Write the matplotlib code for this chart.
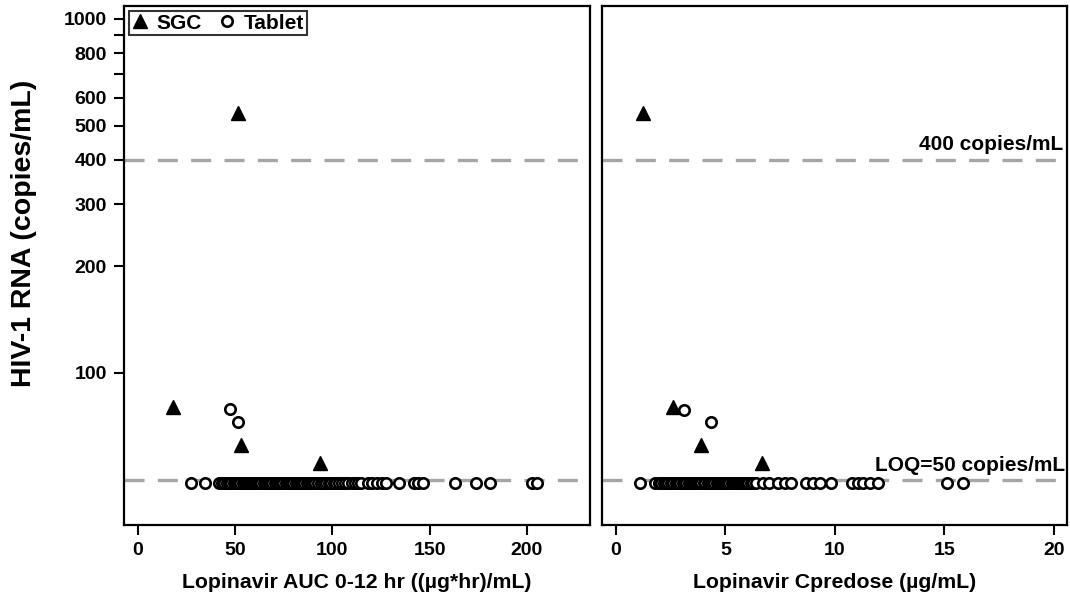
import matplotlib
matplotlib.use("Agg")
import matplotlib.pyplot as plt
from matplotlib.ticker import FixedLocator, FixedFormatter, NullLocator
from matplotlib.lines import Line2D

plt.rcParams['font.family'] = ['Liberation Sans', 'DejaVu Sans']
plt.rcParams['font.weight'] = 'bold'

# ---- data ----
# Left panel: Lopinavir AUC 0-12 hr
sgc_auc = [18, 51.5, 53, 93.5]
sgc_auc_rna = [80, 542, 62.6, 55.7]
tab_auc_hi = [47.6, 51.4]
tab_auc_hi_rna = [79, 72.9]
tab_auc_loq = [27.5, 34.5,
               42, 43.5, 44.5, 46, 47, 48, 49.5, 50.5, 51.5, 52.5, 54, 55, 56, 57, 58,
               59.5, 60.5, 61.5, 62.5, 63.5, 65, 66, 67, 68, 69, 70.5, 71.5, 72.5, 73.5,
               74.5, 76, 77, 78, 79, 80, 81.5, 82.5, 83.5, 84.5, 85.5, 87, 88, 89, 90,
               91, 92.5, 94, 95, 96, 97, 98.5, 99.5, 101, 102, 103.5, 105, 106.5, 108,
               110, 111.5, 113, 115,
               118.5, 120.5, 123, 125.5, 127.5, 134.5, 142, 144, 146.5, 163, 174, 181,
               202.5, 205]

# Right panel: Lopinavir Cpredose
sgc_cpre = [1.23, 2.59, 3.88, 6.68]
sgc_cpre_rna = [542, 80, 62.6, 55.7]
tab_cpre_hi = [3.09, 4.32]
tab_cpre_hi_rna = [78.6, 72.9]
tab_cpre_loq = [1.1,
                1.8, 1.97, 2.05, 2.18, 2.3, 2.38, 2.52, 2.6, 2.73, 2.81, 2.9, 3.04, 3.12,
                3.2, 3.33, 3.41, 3.5, 3.62, 3.7, 3.79, 3.9, 4.02, 4.08, 4.2, 4.31, 4.4,
                4.48, 4.6, 4.71, 4.8, 4.88, 5.0, 5.09, 5.17, 5.3, 5.38, 5.46, 5.58, 5.65,
                5.74, 5.85, 5.93, 6.02, 6.15, 6.26, 6.4,
                6.7, 7.0, 7.4, 7.7, 8.0, 8.7, 9.0, 9.3, 9.8, 10.8, 11.05, 11.3, 11.6,
                11.95, 15.1, 15.85]
loq_rna = 49

ref_levels = [400, 50]
ref_labels = ['400 copies/mL', 'LOQ=50 copies/mL']

y_ticks = [100, 200, 300, 400, 500, 600, 700, 800, 900, 1000]
y_labels = ['100', '200', '300', '400', '500', '600', '', '800', '', '1000']
x_ticks_auc = [0, 50, 100, 150, 200]
x_ticks_cpre = [0, 5, 10, 15, 20]

W, H = 1070, 603
fig = plt.figure(figsize=(W / 100, H / 100), dpi=100)
bottom = 1 - 525 / H
top = 1 - 6 / H
ax1 = fig.add_axes([124 / W, bottom, (590 - 124) / W, top - bottom])
ax2 = fig.add_axes([602 / W, bottom, (1067 - 602) / W, top - bottom])

tri_kw = dict(marker='^', color='black', ms=10.5, linestyle='none')
circ_kw = dict(marker='o', mfc='white', mec='black', ms=7.5, mew=1.9, linestyle='none')
dash_kw = dict(color='#a6a6a6', lw=2.4, dashes=(6, 4), zorder=1)

TICK_FS = 14
LABEL_FS = 15.3

for ax in (ax1, ax2):
    ax.set_yscale('log')
    ax.set_ylim(37.2, 1088)
    for lvl in ref_levels:
        ax.axhline(lvl, **dash_kw)
    for s in ax.spines.values():
        s.set_linewidth(1.6)
    ax.tick_params(axis='both', which='major', direction='out', length=7.5, width=1.5,
                   labelsize=TICK_FS, pad=5)
    ax.yaxis.set_minor_locator(NullLocator())

# left panel
ax1.plot(tab_auc_loq, [loq_rna] * len(tab_auc_loq), **circ_kw, zorder=3)
ax1.plot(tab_auc_hi, tab_auc_hi_rna, **circ_kw, zorder=3)
ax1.plot(sgc_auc, sgc_auc_rna, **tri_kw, zorder=4)
ax1.set_xlim(-7, 232.4)
ax1.xaxis.set_major_locator(FixedLocator(x_ticks_auc))
ax1.yaxis.set_major_locator(FixedLocator(y_ticks))
ax1.yaxis.set_major_formatter(FixedFormatter(y_labels))
ax1.set_xlabel('Lopinavir AUC 0-12 hr ((µg*hr)/mL)', fontsize=LABEL_FS, fontweight='bold',
               labelpad=10)
ax1.set_ylabel('HIV-1 RNA (copies/mL)', fontsize=20.5, fontweight='bold')
ax1.yaxis.set_label_coords(-0.187, 0.561)
for lab in ax1.get_xticklabels() + ax1.get_yticklabels():
    lab.set_fontweight('bold')

# legend
handles = [Line2D([], [], **tri_kw), Line2D([], [], **circ_kw)]
leg = ax1.legend(handles, ['SGC', 'Tablet'], loc='upper left', ncol=2,
                 prop={'weight': 'bold', 'size': 15}, frameon=True, fancybox=False,
                 edgecolor='black', handlelength=0.8, handletextpad=0.4,
                 columnspacing=0.8, borderpad=0.12, borderaxespad=0.25)
leg.get_frame().set_linewidth(1.5)

# right panel
ax2.plot(tab_cpre_loq, [loq_rna] * len(tab_cpre_loq), **circ_kw, zorder=3)
ax2.plot(tab_cpre_hi, tab_cpre_hi_rna, **circ_kw, zorder=3)
ax2.plot(sgc_cpre, sgc_cpre_rna, **tri_kw, zorder=4)
ax2.set_xlim(-0.64, 20.6)
ax2.xaxis.set_major_locator(FixedLocator(x_ticks_cpre))
ax2.yaxis.set_major_locator(NullLocator())
ax2.set_xlabel('Lopinavir Cpredose (µg/mL)', fontsize=LABEL_FS, fontweight='bold',
               labelpad=10)
for lab in ax2.get_xticklabels():
    lab.set_fontweight('bold')

ax2.text(0.993, 400 * 1.04, ref_labels[0], transform=ax2.get_yaxis_transform(),
         ha='right', va='bottom', fontsize=15, fontweight='bold')
ax2.text(0.997, 50 * 1.03, ref_labels[1], transform=ax2.get_yaxis_transform(),
         ha='right', va='bottom', fontsize=15, fontweight='bold')

fig.savefig('out.png', dpi=100)
